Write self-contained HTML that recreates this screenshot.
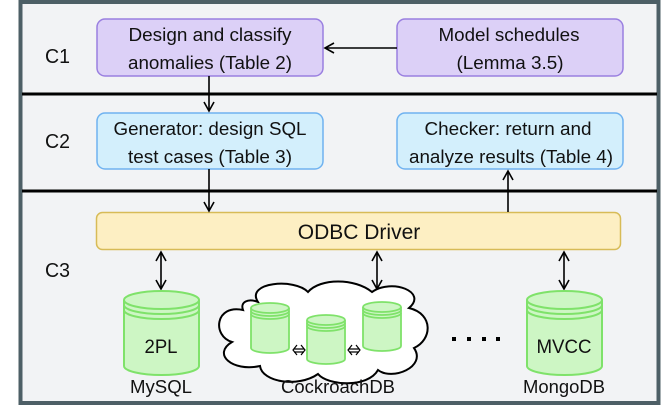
<!DOCTYPE html>
<html><head><style>body{margin:0;background:#fff}svg{display:block}text{font-family:"Liberation Sans",sans-serif;fill:#111}</style></head><body>
<svg width="665" height="415" viewBox="0 0 665 415" xmlns="http://www.w3.org/2000/svg">
<defs>
<marker id="a" markerWidth="12" markerHeight="12" refX="10" refY="6" orient="auto" markerUnits="userSpaceOnUse"><path d="M1,1 L10,6 L1,11" fill="none" stroke="#000" stroke-width="1.6"/></marker>
<marker id="b" markerWidth="12" markerHeight="12" refX="2" refY="6" orient="auto" markerUnits="userSpaceOnUse"><path d="M11,1 L2,6 L11,11" fill="none" stroke="#000" stroke-width="1.6"/></marker>
</defs>
<rect x="20.5" y="2" width="638" height="401" fill="#f2f3f5" stroke="#4d5f66" stroke-width="4"/>
<line x1="22" y1="94" x2="657" y2="94" stroke="#000" stroke-width="3"/>
<line x1="22" y1="191" x2="657" y2="191" stroke="#000" stroke-width="3"/>
<text x="45" y="63" font-size="20" textLength="25" lengthAdjust="spacingAndGlyphs">C1</text>
<text x="45" y="148" font-size="20" textLength="25" lengthAdjust="spacingAndGlyphs">C2</text>
<text x="45" y="277" font-size="20" textLength="25" lengthAdjust="spacingAndGlyphs">C3</text>
<rect x="97" y="19" width="226" height="57" rx="8" fill="#dcd0f7" stroke="#9a7fe0" stroke-width="1.5"/>
<rect x="397" y="19" width="226" height="57" rx="8" fill="#dcd0f7" stroke="#9a7fe0" stroke-width="1.5"/>
<rect x="97" y="113" width="226" height="56" rx="8" fill="#d3effc" stroke="#6fb2f0" stroke-width="1.5"/>
<rect x="397" y="113" width="226" height="56" rx="8" fill="#d3effc" stroke="#6fb2f0" stroke-width="1.5"/>
<g font-size="18" text-anchor="middle">
<text x="210" y="41" textLength="163" lengthAdjust="spacingAndGlyphs">Design and classify</text>
<text x="210" y="69" textLength="164" lengthAdjust="spacingAndGlyphs">anomalies (Table 2)</text>
<text x="509" y="41" textLength="141" lengthAdjust="spacingAndGlyphs">Model schedules</text>
<text x="510" y="69" textLength="107" lengthAdjust="spacingAndGlyphs">(Lemma 3.5)</text>
<text x="210" y="135" textLength="193" lengthAdjust="spacingAndGlyphs">Generator: design SQL</text>
<text x="210" y="163" textLength="164" lengthAdjust="spacingAndGlyphs">test cases (Table 3)</text>
<text x="508" y="135" textLength="167" lengthAdjust="spacingAndGlyphs">Checker: return and</text>
<text x="511" y="163" textLength="204" lengthAdjust="spacingAndGlyphs">analyze results (Table 4)</text>
</g>
<rect x="96.5" y="212.5" width="524" height="37" rx="6" fill="#fdefc3" stroke="#d7bb57" stroke-width="1.5"/>
<text x="359" y="239" font-size="21" text-anchor="middle">ODBC Driver</text>
<line x1="397" y1="48" x2="325" y2="48" stroke="#000" stroke-width="1.6" marker-end="url(#a)"/>
<line x1="209" y1="76" x2="209" y2="111" stroke="#000" stroke-width="1.6" marker-end="url(#a)"/>
<line x1="209" y1="169" x2="209" y2="211" stroke="#000" stroke-width="1.6" marker-end="url(#a)"/>
<line x1="508" y1="212" x2="508" y2="171" stroke="#000" stroke-width="1.6" marker-end="url(#a)"/>
<line x1="161" y1="252" x2="161" y2="289" stroke="#000" stroke-width="1.6" marker-start="url(#b)" marker-end="url(#a)"/>
<line x1="377" y1="252" x2="377" y2="289" stroke="#000" stroke-width="1.6" marker-start="url(#b)" marker-end="url(#a)"/>
<line x1="564" y1="252" x2="564" y2="289" stroke="#000" stroke-width="1.6" marker-start="url(#b)" marker-end="url(#a)"/>
<g fill="#cdf6c4" stroke="#7fe26a" stroke-width="2">
<path d="M124,300 v66 a37.5,9 0 0 0 75,0 v-66"/>
<ellipse cx="161.5" cy="300" rx="37.5" ry="9"/>
<path d="M124,305 a37.5,9 0 0 0 75,0 M124,310 a37.5,9 0 0 0 75,0" fill="none"/>
<path d="M527,300 v66 a37.5,9 0 0 0 75,0 v-66"/>
<ellipse cx="564.5" cy="300" rx="37.5" ry="9"/>
<path d="M527,305 a37.5,9 0 0 0 75,0 M527,310 a37.5,9 0 0 0 75,0" fill="none"/>
</g>
<text x="161" y="353" font-size="19" text-anchor="middle" textLength="33" lengthAdjust="spacingAndGlyphs">2PL</text>
<text x="564" y="353" font-size="19" text-anchor="middle" textLength="55" lengthAdjust="spacingAndGlyphs">MVCC</text>
<path d="M258,302 C245,282 295,278 308,292 C320,278 355,278 372,292 C392,278 428,292 409,308 C434,314 432,340 414,348 C427,367 392,381 378,370 C368,388 328,386 318,374 C298,388 262,382 260,366 C232,372 212,354 232,342 C212,336 215,304 243,310 C240,302 248,298 258,302 Z" fill="#fff" stroke="#000" stroke-width="2"/>
<g fill="#cdf6c4" stroke="#7fe26a" stroke-width="1.8">
<path d="M251,308 v40 a19,5 0 0 0 38,0 v-40"/><ellipse cx="270" cy="308" rx="19" ry="5"/>
<path d="M251,311 a19,5 0 0 0 38,0 M251,314 a19,5 0 0 0 38,0" fill="none"/>
<path d="M307,320 v39 a19,5 0 0 0 38,0 v-39"/><ellipse cx="326" cy="320" rx="19" ry="5"/>
<path d="M307,323 a19,5 0 0 0 38,0 M307,326 a19,5 0 0 0 38,0" fill="none"/>
<path d="M363,307 v39 a19,5 0 0 0 38,0 v-39"/><ellipse cx="382" cy="307" rx="19" ry="5"/>
<path d="M363,310 a19,5 0 0 0 38,0 M363,313 a19,5 0 0 0 38,0" fill="none"/>
</g>
<g stroke="#000" stroke-width="1.2" fill="none">
<path d="M294,349 h10 M294,352 h10 M297,345 l-4,5 l4,5 M301,345 l4,5 l-4,5"/>
<path d="M349,349 h10 M349,352 h10 M352,345 l-4,5 l4,5 M356,345 l4,5 l-4,5"/>
</g>
<g fill="#000"><rect x="452" y="337" width="4" height="4"/><rect x="467" y="337" width="4" height="4"/><rect x="482" y="337" width="4" height="4"/><rect x="496" y="337" width="4" height="4"/></g>
<text x="161" y="393" font-size="18" text-anchor="middle" textLength="62" lengthAdjust="spacingAndGlyphs">MySQL</text>
<text x="338" y="393" font-size="18" text-anchor="middle" textLength="114" lengthAdjust="spacingAndGlyphs">CockroachDB</text>
<text x="564" y="393" font-size="18" text-anchor="middle" textLength="82" lengthAdjust="spacingAndGlyphs">MongoDB</text>
</svg>
</body></html>
